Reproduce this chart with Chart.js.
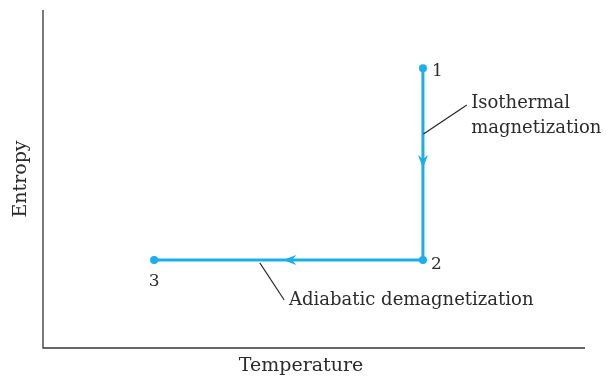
<!DOCTYPE html>
<html>
<head>
<meta charset="utf-8">
<script src="https://cdn.jsdelivr.net/npm/chart.js@4.4.1/dist/chart.umd.min.js"></script>
<style>
  html, body { margin: 0; padding: 0; background: #fff; }
  #wrap { width: 606px; height: 377px; }
</style>
</head>
<body>
<div id="wrap"><canvas id="chart"></canvas></div>
<script>
// Cycle path: state points 1 -> 2 -> 3
const stateLabels = ['1', '2', '3'];
const temperature = [70.1, 70.1, 20.5];
const entropy = [82.8, 26.0, 26.0];

// Process labels and their leader lines (data coordinates)
const processNames = [['Isothermal', 'magnetization'], ['Adiabatic demagnetization']];
const leaderFrom = [[70.2, 63.3], [40.0, 25.2]];
const leaderTo = [[78.2, 71.9], [44.5, 14.2]];
const textAt = [[79.0, 72.5], [45.4, 14.2]];

const lineColor = '#1aaeea';
const textColor = '#2b2b2b';
const serif = '"DejaVu Serif", "Liberation Serif", serif';

// Arrowheads, labels and axis titles drawn on top of the chart
const annotations = {
  id: 'annotations',
  afterDatasetsDraw(chart) {
    const { ctx, scales: { x, y }, chartArea } = chart;
    ctx.save();

    // axes
    ctx.strokeStyle = '#333';
    ctx.lineWidth = 1.3;
    ctx.beginPath();
    ctx.moveTo(chartArea.left, chartArea.top);
    ctx.lineTo(chartArea.left, chartArea.bottom);
    ctx.lineTo(chartArea.right, chartArea.bottom);
    ctx.stroke();

    // arrowheads in the middle of each segment
    ctx.fillStyle = lineColor;
    for (let i = 0; i < temperature.length - 1; i++) {
      const x0 = x.getPixelForValue(temperature[i]);
      const y0 = y.getPixelForValue(entropy[i]);
      const x1 = x.getPixelForValue(temperature[i + 1]);
      const y1 = y.getPixelForValue(entropy[i + 1]);
      const tx = x0 + (x1 - x0) * 0.52;
      const ty = y0 + (y1 - y0) * 0.52;
      const a = Math.atan2(y1 - y0, x1 - x0);
      ctx.save();
      ctx.translate(tx, ty);
      ctx.rotate(a);
      ctx.beginPath();
      ctx.moveTo(0, 0);
      ctx.lineTo(-13, -5);
      ctx.lineTo(-9, 0);
      ctx.lineTo(-13, 5);
      ctx.closePath();
      ctx.fill();
      ctx.restore();
    }

    // leader lines
    ctx.strokeStyle = '#222';
    ctx.lineWidth = 1.1;
    leaderFrom.forEach((p, i) => {
      ctx.beginPath();
      ctx.moveTo(x.getPixelForValue(p[0]), y.getPixelForValue(p[1]));
      ctx.lineTo(x.getPixelForValue(leaderTo[i][0]), y.getPixelForValue(leaderTo[i][1]));
      ctx.stroke();
    });

    ctx.fillStyle = textColor;
    ctx.font = '17px ' + serif;
    ctx.textBaseline = 'middle';

    // state labels
    ctx.textAlign = 'left';
    ctx.fillText(stateLabels[0], x.getPixelForValue(temperature[0]) + 9, y.getPixelForValue(entropy[0]) + 3);
    ctx.fillText(stateLabels[1], x.getPixelForValue(temperature[1]) + 8, y.getPixelForValue(entropy[1]) + 4);
    ctx.textAlign = 'center';
    ctx.fillText(stateLabels[2], x.getPixelForValue(temperature[2]), y.getPixelForValue(entropy[2]) + 21);

    // process labels
    ctx.font = '18px ' + serif;
    ctx.textAlign = 'left';
    processNames.forEach((lines, i) => {
      const px = x.getPixelForValue(textAt[i][0]);
      const py = y.getPixelForValue(textAt[i][1]);
      lines.forEach((s, j) => ctx.fillText(s, px, py + j * 25));
    });

    // axis titles
    ctx.font = '19px ' + serif;
    ctx.textAlign = 'center';
    ctx.fillText('Temperature', (chartArea.left + chartArea.right) / 2 - 13, 366);
    ctx.save();
    ctx.translate(21, 179);
    ctx.rotate(-Math.PI / 2);
    ctx.fillText('Entropy', 0, 0);
    ctx.restore();

    ctx.restore();
  }
};

new Chart(document.getElementById('chart'), {
  type: 'scatter',
  data: {
    datasets: [{
      data: temperature.map((t, i) => ({ x: t, y: entropy[i] })),
      showLine: true,
      borderColor: lineColor,
      borderWidth: 3,
      backgroundColor: lineColor,
      pointRadius: 4,
      pointBorderWidth: 0,
      tension: 0,
    }],
  },
  options: {
    responsive: true,
    maintainAspectRatio: false,
    animation: false,
    layout: { padding: { left: 43, top: 10, right: 21, bottom: 29 } },
    plugins: { legend: { display: false }, tooltip: { enabled: false } },
    scales: {
      x: { type: 'linear', min: 0, max: 100, display: false },
      y: { type: 'linear', min: 0, max: 100, display: false },
    },
  },
  plugins: [annotations],
});
</script>
</body>
</html>
